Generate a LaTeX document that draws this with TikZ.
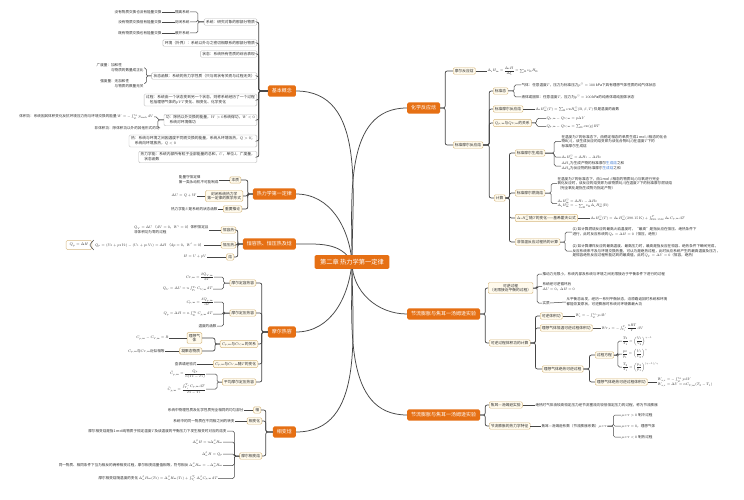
\RequirePackage{fix-cm}
\documentclass[tikz,border=0pt]{standalone}
\usepackage{amsmath}
\usepackage[no-math]{fontspec}
\setmainfont{Noto Sans CJK SC}
\usepackage{xcolor}
\usepackage{tikz}

\definecolor{orgc}{RGB}{230,112,20}
\definecolor{tanc}{RGB}{214,184,128}
\definecolor{creamc}{RGB}{255,250,236}
\definecolor{greyc}{RGB}{185,185,185}
\definecolor{linec}{RGB}{70,70,70}
\definecolor{txtc}{RGB}{45,45,45}
\definecolor{linkc}{RGB}{60,120,210}

\tikzset{
  hubbox/.style={rectangle,rounded corners=3pt,fill=orgc,text=white,inner xsep=11pt,inner ysep=8pt,font=\fontsize{12.5}{15}\selectfont},
  topicbox/.style={rectangle,rounded corners=3pt,fill=orgc,text=white,inner xsep=8pt,inner ysep=6.5pt,font=\fontsize{10}{12}\selectfont},
  subbox/.style={rectangle,rounded corners=2.5pt,draw=tanc,fill=creamc,line width=0.9pt,text=txtc,inner xsep=3.5pt,inner ysep=3pt,align=center,font=\fontsize{7.5}{9}\selectfont},
  notebox/.style={rectangle,rounded corners=2.5pt,draw=greyc,fill=white,line width=0.8pt,text=txtc,inner xsep=4pt,inner ysep=3pt,align=left,font=\fontsize{7.5}{10}\selectfont},
  leaftxt/.style={text=txtc,inner sep=0.8pt,align=left,font=\fontsize{7.2}{9.6}\selectfont},
  hubline/.style={draw=linec,line width=1.5pt},
  spine/.style={draw=linec,line width=1.4pt,rounded corners=4pt},
  twig/.style={draw=linec,line width=1pt,rounded corners=3pt}
}

\begin{document}
\begin{tikzpicture}[x=2pt,y=-2pt]
\fill[white] (0,0) rectangle (744,500);
\useasboundingbox (0,0) rectangle (744,500);

% main topics
\coordinate (hub) at (352,262);
\node[topicbox,anchor=east] (jbgn) at (296,91) {基本概念};
\node[topicbox,anchor=east] (dyl) at (296,194) {热力学第一定律};
\node[topicbox,anchor=east] (hrh) at (296,244) {恒容热、恒压热及焓};
\node[topicbox,anchor=east] (mrrr) at (296,332) {摩尔热容};
\node[topicbox,anchor=east] (xbh) at (296,432) {相变焓};
\node[topicbox,anchor=west] (hxfy) at (407,108) {化学反应焓};
\node[topicbox,anchor=west] (kngc) at (407,314) {节流膨胀与焦耳一汤姆逊实验};
\node[topicbox,anchor=west] (jlpz) at (407,415) {节流膨胀与焦耳一汤姆逊实验};

\draw[hubline] (hub) to[out=90,in=0] (jbgn.east);
\draw[hubline] (hub) to[out=95,in=0] (dyl.east);
\draw[hubline] (hub) to[out=120,in=0] (hrh.east);
\draw[hubline] (hub) to[out=-95,in=0] (mrrr.east);
\draw[hubline] (hub) to[out=-90,in=0] (xbh.east);
\draw[hubline] (hub) to[out=90,in=180] (hxfy.west);
\draw[hubline] (hub) to[out=-90,in=180] (kngc.west);
\draw[hubline] (hub) to[out=-90,in=180] (jlpz.west);

\node[hubbox] (main) at (hub) {第二章 热力学第一定律};

% 基本概念
\node[notebox,anchor=east] (xt) at (257,22) {系统：研究对象的那部分物质};
\node[notebox,anchor=east] (hj) at (257,43) {环境（外界）：系统以外与之密切相联系的那部分物质};
\node[notebox,anchor=east] (zt) at (257,54) {状态：系统所有性质的综合表现};
\node[notebox,anchor=east] (ztfs) at (257,76) {状态函数：系统的热力学性质（只与现状有关而与过程无关）};
\node[notebox,anchor=east] (gc) at (257,100) {过程：系统由一个状态变到另一个状态，则称系统经历了一个过程\\\quad 包括理想气体的$pVT$变化、相变化、化学变化};
\node[notebox,anchor=east] (gong) at (257,120) {功：除热以外交换的能量，$W>0$系统得功，$W<0$\\\quad 系统对环境做功};
\node[notebox,anchor=east] (re) at (257,141) {热：系统与环境之间因温度不同而交换的能量，系统从环境吸热，$Q>0$；\\\quad 系统向环境放热，$Q<0$};
\node[notebox,anchor=east] (rlxn) at (257,157) {热力学能：系统内部所有粒子全部能量的总和，$U$，单位J，广度量，\\\quad 状态函数};
\foreach \nm in {xt,hj,zt,ztfs,gc,gong,re,rlxn}
  \draw[spine] (jbgn.west) -- ++(-9,0) |- (\nm.east);

\node[leaftxt,anchor=east] (gl) at (190,12) {隔离系统};
\node[leaftxt,anchor=east] (fb) at (190,22) {封闭系统};
\node[leaftxt,anchor=east] (ck) at (190,33) {敞开系统};
\node[leaftxt,anchor=east] (glx) at (162,12) {没有物质交换也没有能量交换};
\node[leaftxt,anchor=east] (fbx) at (162,22) {没有物质交换但有能量交换};
\node[leaftxt,anchor=east] (ckx) at (162,33) {既有物质交换也有能量交换};
\foreach \nm in {gl,fb,ck}
  \draw[twig] (xt.west) -- ++(-6,0) |- (\nm.east);
\foreach \a/\b in {glx/gl,fbx/fb,ckx/ck}
  \draw[twig] (\a.east) -- (\b.west);

\node[leaftxt,anchor=east] (gdl) at (144,68) {广度量：加和性\\\phantom{广度量：}与物质的数量成正比};
\node[leaftxt,anchor=east] (qdl) at (144,83.5) {强度量：无加和性\\\phantom{强度量：}与物质的数量无关};
\foreach \nm in {gdl,qdl}
  \draw[twig] (ztfs.west) -- ++(-5,0) |- (\nm.east);

\node[leaftxt,anchor=east] (tjg) at (154,117) {体积功：系统因其体积变化反抗环境压力而与环境交换的能量\ $W=-\int_{V_1}^{V_2}p_{\mathrm{amb}}\,\mathrm dV$};
\node[leaftxt,anchor=east] (ftjg) at (160,128) {非体积功：除体积功以外的其他形式的功};
\foreach \nm in {tjg,ftjg}
  \draw[twig] (gong.west) -- ++(-6,0) |- (\nm.east);

% 热力学第一定律
\node[subbox,anchor=east] (bz) at (241,180) {本质};
\node[subbox,anchor=east] (sxxs) at (243,196) {封闭系统热力学\\第一定律的数学形式};
\node[subbox,anchor=east] (tl) at (242,209) {重要推论};
\foreach \nm in {bz,sxxs,tl}
  \draw[spine] (dyl.west) -- ++(-5,0) |- (\nm.east);
\node[leaftxt,anchor=east] (bzx) at (219,180) {能量守恒定律\\第一类永动机不可能制成};
\node[leaftxt,anchor=east] (dux) at (197,196) {$\Delta U=Q+W$};
\node[leaftxt,anchor=east] (tlx) at (218,209) {热力学能$U$是系统的状态函数};
\foreach \a/\b in {bzx/bz,dux/sxxs,tlx/tl}
  \draw[twig] (\a.east) -- (\b.west);

% 恒容热、恒压热及焓
\node[subbox,anchor=east] (hrr) at (236,230) {恒容热};
\node[subbox,anchor=east] (hyr) at (236,245) {恒压热};
\node[subbox,anchor=east] (han) at (234,257) {焓};
\foreach \nm in {hrr,hyr,han}
  \draw[spine] (hrh.west) -- ++(-5,0) |- (\nm.east);
\node[leaftxt,anchor=east] (qvx) at (209,230) {$Q_V=\Delta U$\ （$\mathrm dV=0$，$W'=0$）体积恒定且\\非体积功为零的过程};
\node[leaftxt,anchor=east] (qpx) at (204,245) {$Q_p=(U_2+p_2V_2)-(U_1+p_1V_1)=\Delta H$\ （$\mathrm dp=0$，$W'=0$）};
\node[leaftxt,anchor=east] (hx) at (207,257) {$H=U+pV$};
\foreach \a/\b in {qvx/hrr,qpx/hyr,hx/han}
  \draw[twig] (\a.east) -- (\b.west);
\node[subbox,fill=white,inner xsep=7pt,inner ysep=5.5pt,anchor=east] (qph) at (92,245) {$Q_p=\Delta H$};
\draw[twig,rounded corners=1.5pt] ([shift={(-1,-5)}]qpx.west) -- ([shift={(-5,0)}]qpx.west) -- ([shift={(-1,5)}]qpx.west);

% 摩尔热容
\node[subbox,anchor=east] (dr) at (256,283) {摩尔定容热容};
\node[subbox,anchor=east] (yr) at (256,313) {摩尔定压热容};
\node[subbox,anchor=east] (gx) at (258,344) {$C_{p,\mathrm m}$与$C_{V,\mathrm m}$的关系};
\node[subbox,anchor=east] (bh) at (258,364) {$C_{p,\mathrm m}$与$C_{V,\mathrm m}$随$T$的变化};
\node[subbox,anchor=east] (pj) at (256,382) {平均摩尔定压热容};
\foreach \nm in {dr,yr,gx,bh,pj}
  \draw[spine] (mrrr.west) -- ++(-6,0) |- (\nm.east);

\node[leaftxt,anchor=east] (cv) at (214,277) {$C_{V,\mathrm m}=\dfrac{\delta Q_{V,\mathrm m}}{\mathrm dT}$};
\node[leaftxt,anchor=east] (qvd) at (213,289) {$Q_V=\Delta U=n\int_{T_1}^{T_2}C_{V,\mathrm m}\,\mathrm dT$};
\foreach \nm in {cv,qvd}
  \draw[twig] (dr.west) -- ++(-6,0) |- (\nm.east);
\node[leaftxt,anchor=east] (cp) at (214,302) {$C_{p,\mathrm m}=\dfrac{\delta Q_{p,\mathrm m}}{\mathrm dT}$};
\node[leaftxt,anchor=east] (qpd) at (213,314) {$Q_p=\Delta H=n\int_{T_1}^{T_2}C_{p,\mathrm m}\,\mathrm dT$};
\node[leaftxt,anchor=east] (wdh) at (217,326) {温度的函数};
\foreach \nm in {cp,qpd,wdh}
  \draw[twig] (yr.west) -- ++(-6,0) |- (\nm.east);
\node[subbox,anchor=east] (lxqt) at (202,338) {理想气\\体};
\node[subbox,anchor=east] (njt) at (202,351) {凝聚态物质};
\foreach \nm in {lxqt,njt}
  \draw[spine] (gx.west) -- ++(-5,0) |- (\nm.east);
\node[leaftxt,anchor=east] (cpcv) at (169,338) {$C_{p,\mathrm m}-C_{V,\mathrm m}=R$};
\node[leaftxt,anchor=east] (xdx) at (165,351) {$C_{p,\mathrm m}$与$C_{V,\mathrm m}$近似相等};
\node[leaftxt,anchor=east] (cbx) at (197,364) {查表或经验式};
\foreach \a/\b in {cpcv/lxqt,xdx/njt,cbx/bh}
  \draw[twig] (\a.east) -- (\b.west);
\node[leaftxt,anchor=east] (pj1) at (206,374) {$\bar C_{p,\mathrm m}=\dfrac{Q_p}{n(T_2-T_1)}$};
\node[leaftxt,anchor=east] (pj2) at (206,389) {$\bar C_{p,\mathrm m}=\dfrac{\int_{T_1}^{T_2}C_{p,\mathrm m}\,\mathrm dT}{T_2-T_1}$};
\foreach \nm in {pj1,pj2}
  \draw[twig] (pj.west) -- ++(-5,0) |- (\nm.east);

% 相变焓
\node[subbox,anchor=east] (xiang) at (261,410) {相};
\node[subbox,anchor=east] (xbhz) at (262,421) {相变化};
\node[subbox,anchor=east] (mxbh) at (262,456) {摩尔相变焓};
\foreach \nm in {xiang,xbhz,mxbh}
  \draw[spine] (xbh.west) -- ++(-7,0) |- (\nm.east);
\node[leaftxt,anchor=east] (xiangx) at (244,410) {系统中物理性质及化学性质完全相同的均匀部分};
\node[leaftxt,anchor=east] (xbhx) at (235,421) {系统中的同一物质在不同相之间的转变};
\foreach \a/\b in {xiangx/xiang,xbhx/xbhz}
  \draw[twig] (\a.east) -- (\b.west);
\node[leaftxt,anchor=east] (mx1) at (227,431) {摩尔相变焓是指1\,mol纯物质于恒定温度$T$及该温度的平衡压力下发生相变时对应的焓变};
\node[leaftxt,anchor=east] (mx2) at (223,442) {$\Delta_\alpha^\beta H=n\Delta_\alpha^\beta H_{\mathrm m}$};
\node[leaftxt,anchor=east] (mx3) at (223,454) {$\Delta_\alpha^\beta H=Q_p$};
\node[leaftxt,anchor=east] (mx4) at (223,465.5) {同一物质、相同条件下互为相反的两种相变过程，摩尔相变焓量值相等，符号相反\ $\Delta_\alpha^\beta H_{\mathrm m}=-\Delta_\beta^\alpha H_{\mathrm m}$};
\node[leaftxt,anchor=east] (mx5) at (218,478.5) {摩尔相变焓随温度的变化\ $\Delta_\alpha^\beta H_{\mathrm m}(T_2)=\Delta_\alpha^\beta H_{\mathrm m}(T_1)+\int_{T_1}^{T_2}\Delta_\alpha^\beta C_{p,\mathrm m}\,\mathrm dT$};
\foreach \nm in {mx1,mx2,mx3,mx4,mx5}
  \draw[twig] (mxbh.west) -- ++(-5,0) |- (\nm.east);

% 化学反应焓
\node[subbox,anchor=west] (mrfy) at (453,71) {摩尔反应焓};
\node[subbox,anchor=west] (bzmr) at (453,145) {标准摩尔反应焓};
\foreach \nm in {mrfy,bzmr}
  \draw[spine] (hxfy.east) -- ++(5,0) |- (\nm.west);
\node[leaftxt,anchor=west] (mrfyx) at (487,71) {$\Delta_{\mathrm r}H_{\mathrm m}=\dfrac{\Delta_{\mathrm r}H}{\Delta\xi}=\sum_{\mathrm B}\nu_{\mathrm B}H_{\mathrm B}$};
\draw[twig] (mrfy.east) -- (mrfyx.west);

\node[subbox,anchor=west] (bzt) at (493,91) {标准态};
\node[subbox,anchor=west] (bzmh) at (493,109) {标准摩尔反应焓};
\node[subbox,anchor=west] (qgx) at (493,123) {$Q_{p,\mathrm m}$与$Q_{V,\mathrm m}$的关系};
\node[subbox,anchor=west] (jsn) at (494,198) {计算};
\foreach \nm in {bzt,bzmh,qgx,jsn}
  \draw[spine] (bzmr.east) -- ++(6,0) |- (\nm.west);
\node[leaftxt,anchor=west] (qtt) at (521,85) {气体：任意温度$T$，压力为标准压力$p^\ominus=100\,$kPa下具有理想气体性质的纯气体状态};
\node[leaftxt,anchor=west] (ytt) at (521,97) {液体或固体：任意温度$T$，压力为$p^\ominus=100\,$kPa的纯液体或纯固体状态};
\foreach \nm in {qtt,ytt}
  \draw[twig] (bzt.east) -- ++(6,0) |- (\nm.west);
\node[leaftxt,anchor=west] (bzmhx) at (535,109) {$\Delta_{\mathrm r}H^\ominus_{\mathrm m}(T)=\sum_{\mathrm B}\nu_{\mathrm B}H^\ominus_{\mathrm m}(\mathrm B,\beta,T)$\ 仅是温度的函数};
\draw[twig] (bzmh.east) -- (bzmhx.west);
\node[leaftxt,anchor=west] (qq1) at (546,118.5) {$Q_{p,\mathrm m}-Q_{V,\mathrm m}=p\Delta V$};
\node[leaftxt,anchor=west] (qq2) at (546,126.5) {$Q_{p,\mathrm m}-Q_{V,\mathrm m}=\sum_{\mathrm B}\nu_{\mathrm B}(\mathrm g)RT$};
\foreach \nm in {qq1,qq2}
  \draw[twig] (qgx.east) -- ++(5,0) |- (\nm.west);

% 计算
\node[subbox,anchor=west] (scx) at (515,153) {标准摩尔生成焓};
\node[subbox,anchor=west] (rsx) at (515,193) {标准摩尔燃烧焓};
\node[subbox,anchor=west] (jxhf) at (515,218) {$\Delta_{\mathrm r}H^\ominus_{\mathrm m}$随$T$的变化——基希霍夫公式};
\node[subbox,anchor=west] (fhw) at (515,242) {非恒温反应过程热的计算};
\foreach \nm in {scx,rsx,jxhf,fhw}
  \draw[spine] (jsn.east) -- ++(4,0) |- (\nm.west);

\node[leaftxt,anchor=west] (sc1) at (561,141.5) {在温度为$T$的标准态下，由稳定相态的单质生成1\,mol $\beta$相态的化合\\物B($\beta$)，该生成反应的焓变即为该化合物B($\beta$)在温度$T$下的\\标准摩尔生成焓};
\node[leaftxt,anchor=west] (sc2) at (561,157) {$\Delta_{\mathrm r}H^\ominus_{\mathrm m}=\Delta H_1-\Delta H_2$};
\node[leaftxt,anchor=west] (sc3) at (561,166) {$\Delta H_1$为生成产物的标准摩尔\textcolor{linkc}{生成焓}之和\\$\Delta H_2$为反应物的标准摩尔\textcolor{linkc}{生成焓}之和};
\foreach \nm in {sc1,sc2,sc3}
  \draw[twig] (scx.east) -- ++(9,0) |- (\nm.west);

\node[leaftxt,anchor=west] (rs1) at (557,183.5) {在温度为$T$的标准态下，由1\,mol $\beta$相态的物质B($\beta$)与氧进行完全\\氧化反应时，该反应的焓变即为该物质B($\beta$)在温度$T$下的标准摩尔燃烧焓\\（完全氧化是指生成物为指定产物）};
\node[leaftxt,anchor=west] (rs2) at (557,203.5) {$\Delta_{\mathrm r}H^\ominus_{\mathrm m}=\Delta H_1-\Delta H_2$\\$\Delta_{\mathrm r}H^\ominus_{\mathrm m}=-\sum_{\mathrm B}\nu_{\mathrm B}\Delta_{\mathrm c}H^\ominus_{\mathrm m}(\mathrm B)$};
\foreach \nm in {rs1,rs2}
  \draw[twig] (rsx.east) -- ++(6,0) |- (\nm.west);

\node[leaftxt,anchor=west] (jxhfx) at (590,218) {$\Delta_{\mathrm r}H^\ominus_{\mathrm m}(T)=\Delta_{\mathrm r}H^\ominus_{\mathrm m}(298.15\,\mathrm K)+\int_{298.15\,\mathrm K}^{T}\Delta_{\mathrm r}C_{p,\mathrm m}\,\mathrm dT$};
\draw[twig] (jxhf.east) -- (jxhfx.west);

\node[leaftxt,anchor=west] (fh1) at (572,232) {(1) 如计算燃烧反应的最高火焰温度时，“最高”是指反应在恒压、绝热条件下\\进行，此时反应系统的$Q_p=\Delta H=0$（恒压，绝热）};
\node[leaftxt,anchor=west] (fh2) at (572,251) {(2) 如计算爆炸反应的最高温度、最高压力时，最高是指反应在恒容、绝热条件下瞬间完成，\\反应系统来不及与环境交换热量，可认为是绝热过程，此时反应系统产生的最高温度及压力，\\是恒容绝热反应过程所能达到的最高值，此时$Q_V=\Delta U=0$（恒容，绝热）};
\foreach \nm in {fh1,fh2}
  \draw[twig] (fhw.east) -- ++(5,0) |- (\nm.west);

% 可逆过程
\node[subbox,anchor=west] (kngc2) at (488,288) {可逆过程\\（无限接近平衡的过程）};
\node[subbox,anchor=west] (kjs) at (489,343) {可逆过程体积功的计算};
\foreach \nm in {kngc2,kjs}
  \draw[spine] (kngc.east) -- ++(5,0) |- (\nm.west);
\node[leaftxt,anchor=west] (kn1) at (542,274) {推动力无限小，系统内部及系统与环境之间无限接近于平衡条件下进行的过程};
\node[leaftxt,anchor=west] (kn2) at (542,286.5) {系统经可逆循环后\\$\Delta U=0$，$\Delta H=0$};
\node[leaftxt,anchor=west] (sz) at (542,303) {实质};
\node[leaftxt,anchor=west] (sz1) at (566,302) {从平衡态出发，经历一系列平衡状态，沿原路返回时系统和环境\\都能恢复原状，可逆膨胀时系统对环境做最大功};
\draw[twig] (sz.east) -- (sz1.west);
\foreach \nm in {kn1,kn2,sz}
  \draw[twig] (kngc2.east) -- ++(4,0) |- (\nm.west);

\node[subbox,anchor=west] (knt) at (540,316) {可逆体积功};
\node[subbox,anchor=west] (hwk) at (540,328) {理想气体恒温可逆过程体积功};
\node[subbox,anchor=west] (jrk) at (542,369) {理想气体绝热可逆过程};
\foreach \nm in {knt,hwk,jrk}
  \draw[spine] (kjs.east) -- ++(5,0) |- (\nm.west);
\node[leaftxt,anchor=west] (wr) at (575,316) {$W_{\mathrm r}=-\int_{V_1}^{V_2}p\,\mathrm dV$};
\node[leaftxt,anchor=west] (wtr) at (601,328) {$W_{T,\mathrm r}=-\int_{V_1}^{V_2}\dfrac{nRT}{V}\,\mathrm dV$};
\foreach \a/\b in {knt/wr,hwk/wtr}
  \draw[twig] (\a.east) -- (\b.west);

\node[subbox,anchor=west] (fcfc) at (595,355) {过程方程};
\node[subbox,anchor=west] (jrw) at (595,382) {理想气体绝热可逆过程体积功};
\foreach \nm in {fcfc,jrw}
  \draw[spine] (jrk.east) -- ++(6,0) |- (\nm.west);
\node[leaftxt,anchor=west] (fc1) at (622,341) {$\dfrac{T_2}{T_1}=\left(\dfrac{V_1}{V_2}\right)^{\gamma-1}$};
\node[leaftxt,anchor=west] (fc2) at (622,354) {$\dfrac{p_2}{p_1}=\left(\dfrac{V_1}{V_2}\right)^{\gamma}$};
\node[leaftxt,anchor=west] (fc3) at (622,367) {$\dfrac{T_2}{T_1}=\left(\dfrac{p_2}{p_1}\right)^{(\gamma-1)/\gamma}$};
\foreach \nm in {fc1,fc2,fc3}
  \draw[twig] (fcfc.east) -- ++(4,0) |- (\nm.west);
\node[leaftxt,anchor=west] (jrwx) at (657,382) {$W_{\mathrm{a,r}}=-\int_{V_1}^{V_2}p\,\mathrm dV$\\$W_{\mathrm{a,r}}=\Delta U=nC_{V,\mathrm m}(T_2-T_1)$};
\draw[twig] (jrw.east) -- (jrwx.west);

% 节流膨胀
\node[subbox,anchor=west] (jtsy) at (489,405) {焦耳—汤姆逊实验};
\node[subbox,anchor=west] (jltz) at (489,426) {节流膨胀的热力学特征};
\foreach \nm in {jtsy,jltz}
  \draw[spine] (jlpz.east) -- ++(5,0) |- (\nm.west);
\node[leaftxt,anchor=west] (jtsyx) at (535,405) {绝热时气体由较高恒定压力经节流塞流向较低恒定压力的过程，称为节流膨胀};
\node[leaftxt,anchor=west] (jtxs) at (541,426) {焦耳—汤姆逊系数（节流膨胀系数）$\mu_{\mathrm{J\mbox{-}T}}$};
\foreach \a/\b in {jtsy/jtsyx,jltz/jtxs}
  \draw[twig] (\a.east) -- (\b.west);
\node[leaftxt,anchor=west] (mu1) at (621,415) {$\mu_{\mathrm{J\mbox{-}T}}>0$\ 制冷过程};
\node[leaftxt,anchor=west] (mu2) at (621,426) {$\mu_{\mathrm{J\mbox{-}T}}=0$，理想气体};
\node[leaftxt,anchor=west] (mu3) at (621,437) {$\mu_{\mathrm{J\mbox{-}T}}<0$\ 制热过程};
\foreach \nm in {mu1,mu2,mu3}
  \draw[twig] (jtxs.east) -- ++(6,0) |- (\nm.west);
\end{tikzpicture}
\end{document}
